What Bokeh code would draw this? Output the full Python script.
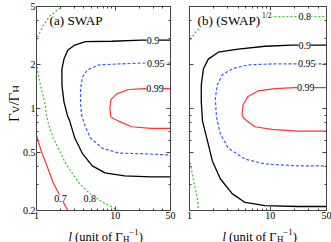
import math
from bokeh.plotting import figure
from bokeh.models import Range1d, LogAxis, FixedTicker, Label, CustomJSTickFormatter
from bokeh.layouts import row, column
from bokeh.embed import file_html
from bokeh.resources import INLINE

# ---------------- data ----------------
X_MAJOR = [1, 10, 50]
X_MINOR = [2, 3, 4, 5, 6, 7, 8, 9, 20, 30, 40]
Y_MAJOR = [0.2, 0.5, 1, 2, 5]
Y_MINOR = [0.3, 0.4, 0.6, 0.7, 0.8, 0.9, 3, 4]

# panel (a) SWAP contours  (l, Gamma_V/Gamma_H)
a_l07 = [0.95, 1.0, 1.15, 1.33, 1.63, 2.04, 2.49, 2.7]
a_g07 = [0.72, 0.65, 0.51, 0.417, 0.31, 0.245, 0.2, 0.185]
a_l08 = [2.4, 2.16, 1.49, 1.22, 1.06, 1.0, 0.97, 1.0, 1.12, 1.29, 1.33, 1.45, 1.63, 2.36, 3.52, 5.10, 7.39, 11.0, 13.0]
a_g08 = [5.3, 5.0, 4.34, 3.71, 3.18, 2.94, 2.5, 2.02, 1.45, 1.06, 0.91, 0.75, 0.63, 0.417, 0.305, 0.253, 0.223, 0.2, 0.19]
a_l09 = [50, 21.3, 9.02, 4.17, 3.05, 2.49, 2.23, 2.10, 2.10, 2.23, 2.49, 2.64, 3.05, 3.83, 5.10, 7.39, 13.1, 28.3, 50]
a_g09 = [2.94, 2.94, 2.89, 2.87, 2.72, 2.51, 2.18, 1.87, 1.45, 1.11, 0.88, 0.82, 0.63, 0.49, 0.404, 0.362, 0.345, 0.34, 0.34]
a_l095 = [50, 23.2, 11.0, 6.22, 4.42, 3.83, 3.62, 3.62, 3.72, 4.05, 4.81, 6.78, 11.0, 21.3, 50]
a_g095 = [2.05, 2.05, 2.02, 1.99, 1.84, 1.65, 1.37, 1.11, 0.91, 0.78, 0.63, 0.535, 0.495, 0.49, 0.48]
a_l099 = [50, 23.2, 14.7, 10.4, 8.77, 8.52, 8.77, 9.5, 11.0, 16.0, 28.3, 50]
a_g099 = [1.37, 1.37, 1.35, 1.26, 1.15, 1.0, 0.88, 0.85, 0.82, 0.75, 0.73, 0.73]

# panel (b) (SWAP)^1/2 contours
b_l08a = [0.97, 1.03, 1.19, 1.37, 1.57, 2.1, 3.0, 5.0, 8.6, 50]
b_g08a = [2.8, 2.98, 3.33, 3.60, 3.77, 4.05, 4.2, 4.26, 4.27, 4.27]
b_l08b = [0.97, 1.03, 1.12, 1.25, 1.29, 1.31]
b_g08b = [0.45, 0.417, 0.32, 0.245, 0.2, 0.19]
b_l09 = [50, 18.6, 8.63, 4.01, 2.28, 1.71, 1.49, 1.40, 1.40, 1.45, 1.67, 1.92, 2.41, 3.38, 4.89, 8.63, 22.0, 50]
b_g09 = [2.72, 2.72, 2.67, 2.55, 2.43, 2.18, 1.87, 1.45, 1.11, 0.82, 0.60, 0.437, 0.33, 0.261, 0.227, 0.216, 0.213, 0.213]
b_l095 = [50, 20.2, 10.5, 5.33, 3.38, 2.55, 2.21, 2.09, 2.15, 2.21, 2.41, 3.02, 4.89, 8.63, 22.0, 50]
b_g095 = [2.02, 2.02, 2.02, 1.99, 1.87, 1.70, 1.45, 1.17, 0.91, 0.82, 0.67, 0.535, 0.45, 0.417, 0.404, 0.404]
b_l099 = [50, 20.2, 11.5, 7.07, 5.33, 4.62, 4.49, 4.7, 5.18, 6.50, 10.5, 22.0, 50]
b_g099 = [1.39, 1.39, 1.37, 1.32, 1.21, 1.06, 0.91, 0.86, 0.82, 0.75, 0.72, 0.70, 0.70]

# contour labels
a_lab_text = ["0.9", "0.95", "0.99", "0.7", "0.8"]
a_lab_l = [29.9, 32.6, 31.7, 2.01, 4.75]
a_lab_g = [2.94, 2.05, 1.37, 0.243, 0.243]
b_lab_text = ["0.8", "0.9", "0.95", "0.99"]
b_lab_l = [26.8, 26.8, 28.4, 27.6]
b_lab_g = [4.27, 2.72, 2.02, 1.39]

SERIF = "Liberation Serif"
BLACK = "#000000"
BLUE = "#3a5cf0"
RED = "#ff3333"
GREEN = "#3cbf2c"
FRAME = "#444444"

FMT = CustomJSTickFormatter(code="return String(Number(tick.toPrecision(6)));")
BLANK = CustomJSTickFormatter(code="return '';")


def style_axis(ax):
    ax.axis_line_color = FRAME
    ax.major_tick_line_color = FRAME
    ax.minor_tick_line_color = FRAME
    ax.major_tick_in = 4
    ax.major_tick_out = 0
    ax.minor_tick_in = 2
    ax.minor_tick_out = 0
    ax.major_label_text_font = SERIF
    ax.major_label_text_font_size = "10px"
    ax.major_label_text_color = "#000000"


def mirror_axis(p, loc, major, minor):
    ax = LogAxis(ticker=FixedTicker(ticks=major, minor_ticks=minor))
    style_axis(ax)
    ax.formatter = BLANK
    ax.major_label_standoff = 0
    p.add_layout(ax, loc)


def make_fig(width, bl, br, ylabels):
    p = figure(width=width, height=223, x_axis_type="log", y_axis_type="log",
               x_range=Range1d(1, 50), y_range=Range1d(0.2, 5),
               output_backend="svg", toolbar_location=None,
               min_border_left=bl, min_border_right=br,
               min_border_top=6, min_border_bottom=13)
    p.xgrid.visible = False
    p.ygrid.visible = False
    p.outline_line_color = FRAME
    p.background_fill_color = "white"
    p.border_fill_color = "white"
    p.xaxis.ticker = FixedTicker(ticks=X_MAJOR, minor_ticks=X_MINOR)
    p.yaxis.ticker = FixedTicker(ticks=Y_MAJOR, minor_ticks=Y_MINOR)
    style_axis(p.xaxis[0])
    style_axis(p.yaxis[0])
    p.xaxis.formatter = FMT
    p.yaxis.formatter = FMT
    p.xaxis.major_label_standoff = 1
    p.yaxis.major_label_standoff = 1
    if not ylabels:
        p.yaxis.formatter = BLANK
        p.yaxis.major_label_standoff = 0
    mirror_axis(p, "above", X_MAJOR, X_MINOR)
    mirror_axis(p, "right", Y_MAJOR, Y_MINOR)
    return p


def strip(width, height):
    s = figure(width=width, height=height, output_backend="svg", toolbar_location=None,
               x_axis_location=None, y_axis_location=None,
               min_border=0, x_range=Range1d(0, 1), y_range=Range1d(0, 1))
    s.xgrid.visible = False
    s.ygrid.visible = False
    s.outline_line_color = None
    s.background_fill_color = "white"
    s.border_fill_color = "white"
    return s


def lbl(p, x, y, text, size, italic=False, angle=0.0,
        align="left", baseline="alphabetic", bg=None):
    # x, y in screen pixels relative to the frame's bottom-left corner
    kw = dict(x=x, y=y, x_units="screen", y_units="screen", text=text,
              text_font=SERIF, text_font_size=f"{size}px",
              text_font_style="italic" if italic else "normal",
              text_color="#000000", angle=angle,
              text_align=align, text_baseline=baseline)
    if bg:
        kw["background_fill_color"] = bg
    p.add_layout(Label(**kw))


def contour_labels(p, texts, ls, gs):
    for t, l, g in zip(texts, ls, gs):
        p.add_layout(Label(x=l, y=g, text=t, text_font=SERIF, text_font_size="10px",
                           text_align="center", text_baseline="middle",
                           background_fill_color="white", text_color="#000000"))


def x_label(p, x0, y):
    # "l (unit of Γ_H^-1)"
    lbl(p, x0, y, "l", 12.5, italic=True)
    x = x0 + 3.5 + 3.1
    lbl(p, x, y, "(unit of Γ", 12.5)
    x += 47.8
    lbl(p, x, y - 2.5, "H", 8.8)
    x += 6.4
    lbl(p, x, y + 5, "−1", 8.8)
    x += 9.4
    lbl(p, x, y, ")", 12.5)


# ---------------- panel (a) ----------------
pa = make_fig(159, 14, 8, True)
pa.line(a_l07, a_g07, line_color=RED, line_width=1.2)
pa.line(a_l08, a_g08, line_color=GREEN, line_width=1.2, line_dash="2 2")
pa.line(a_l09, a_g09, line_color=BLACK, line_width=1.3)
pa.line(a_l095, a_g095, line_color=BLUE, line_width=1.2, line_dash="3 2")
pa.line(a_l099, a_g099, line_color=RED, line_width=1.2)
contour_labels(pa, a_lab_text, a_lab_l, a_lab_g)
lbl(pa, 13, 189.7, "(a) SWAP", 13.2)

# ---------------- panel (b) ----------------
pb = make_fig(153, 11, 5, False)
pb.line(b_l08a, b_g08a, line_color=GREEN, line_width=1.2, line_dash="2 2")
pb.line(b_l08b, b_g08b, line_color=GREEN, line_width=1.2, line_dash="2 2")
pb.line(b_l09, b_g09, line_color=BLACK, line_width=1.3)
pb.line(b_l095, b_g095, line_color=BLUE, line_width=1.2, line_dash="3 2")
pb.line(b_l099, b_g099, line_color=RED, line_width=1.2)
contour_labels(pb, b_lab_text, b_lab_l, b_lab_g)
lbl(pb, 8, 189.7, "(b) (SWAP)", 13.2, bg="white")
lbl(pb, 72.5, 195.5, "1/2", 7.5, bg="white")

# ---------------- axis-title strips ----------------
ys = strip(19, 242)
yx = 13.5
yy = 120.5
lbl(ys, yx, yy, "Γ", 15, angle=math.pi / 2)
yy += 8.8
lbl(ys, yx + 2.5, yy, "V", 10.5, angle=math.pi / 2)
yy += 7.6
lbl(ys, yx, yy, "/Γ", 15, angle=math.pi / 2)
yy += 12.9
lbl(ys, yx + 2.5, yy, "H", 10.5, angle=math.pi / 2)

xs = strip(312, 19)
x_label(xs, 49, 6)
x_label(xs, 203, 6)

layout = row(ys, column(row(pa, pb), xs))
open("out.html", "w").write(file_html(layout, INLINE))
